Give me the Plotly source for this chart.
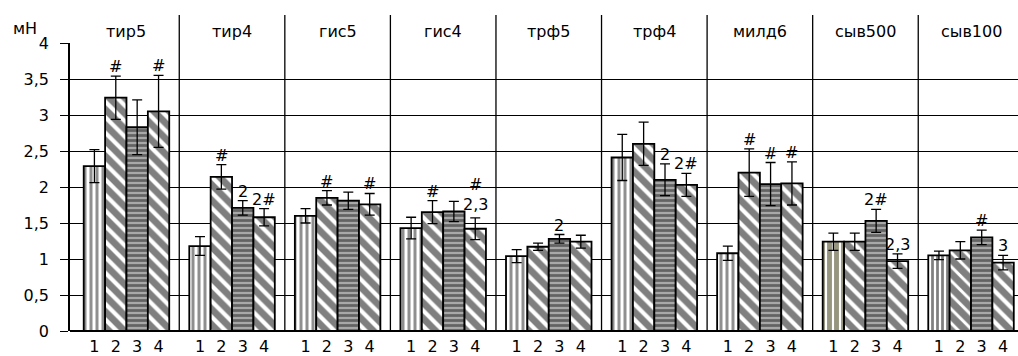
import plotly.graph_objects as go

categories = ["тир5", "тир4", "гис5", "гис4", "трф5", "трф4", "милд6", "сыв500", "сыв100"]
series_names = ["1", "2", "3", "4"]

s1 = [2.29, 1.18, 1.60, 1.43, 1.04, 2.41, 1.08, 1.24, 1.05]
s2 = [3.24, 2.14, 1.85, 1.65, 1.17, 2.60, 2.20, 1.24, 1.12]
s3 = [2.83, 1.71, 1.81, 1.66, 1.28, 2.10, 2.04, 1.53, 1.30]
s4 = [3.05, 1.58, 1.76, 1.42, 1.24, 2.03, 2.05, 0.97, 0.95]

e1 = [0.23, 0.13, 0.10, 0.15, 0.09, 0.32, 0.10, 0.12, 0.06]
e2 = [0.30, 0.17, 0.10, 0.16, 0.05, 0.30, 0.33, 0.12, 0.12]
e3 = [0.38, 0.10, 0.12, 0.14, 0.06, 0.22, 0.30, 0.16, 0.10]
e4 = [0.50, 0.12, 0.15, 0.15, 0.09, 0.16, 0.30, 0.10, 0.10]

# significance marks: (category index, series index, text)
marks = [
    (0, 1, "#"), (0, 3, "#"),
    (1, 1, "#"), (1, 2, "2"), (1, 3, "2#"),
    (2, 1, "#"), (2, 3, "#"),
    (3, 1, "#"), (3, 3, "2,3"), (3, 3, "#"),
    (4, 2, "2"),
    (5, 2, "2"), (5, 3, "2#"),
    (6, 1, "#"), (6, 2, "#"), (6, 3, "#"),
    (7, 2, "2#"), (7, 3, "2,3"),
    (8, 2, "#"), (8, 3, "3"),
]

y_ticks = [0, 0.5, 1, 1.5, 2, 2.5, 3, 3.5, 4]
unit = "мН"

FONT = "DejaVu Sans"
FS = 16
values = [s1, s2, s3, s4]
errors = [e1, e2, e3, e4]
n = len(categories)
xs = list(range(n))
bargap = 0.19
bw = (1 - bargap) / 4

fg1 = ["#202020"] * 7 + ["#2e2e00", "#000000"]
size1 = [6] * 7 + [7, 5]
sol1 = [0.5] * 7 + [0.7, 0.55]
patterns = [
    dict(shape="|", fgcolor=fg1, bgcolor="white", size=size1, solidity=sol1),
    dict(shape="\\", fgcolor="black", bgcolor="white", size=[11] * 8 + [10], solidity=[0.62] * 8 + [0.7]),
    dict(shape="-", fgcolor="#1e1e1e", bgcolor="#a8a8a8", size=5, solidity=0.55),
    dict(shape="\\", fgcolor="black", bgcolor="white", size=11, solidity=0.62),
]

fig = go.Figure()
for k in range(4):
    fig.add_trace(go.Bar(
        x=xs, y=values[k], name=series_names[k],
        marker=dict(color="white", line=dict(color="black", width=1.8), pattern=patterns[k]),
        error_y=dict(type="data", array=errors[k], color="black", thickness=1.3, width=5),
        showlegend=False,
    ))

annotations = []
for i, c in enumerate(categories):
    annotations.append(dict(x=i, y=1.04, xref="x", yref="paper", text=c, showarrow=False,
                            font=dict(family=FONT, size=FS, color="black"), yanchor="middle"))
annotations.append(dict(x=-0.047, y=1.052, xref="paper", yref="paper", text=unit, showarrow=False,
                        font=dict(family=FONT, size=FS, color="black"), xanchor="center", yanchor="middle"))

seen = {}
for (i, k, t) in marks:
    key = (i, k)
    extra = seen.get(key, 0)
    seen[key] = extra + 1
    yv = values[k][i] + errors[k][i]
    shift = -2 + extra * 24
    if t == "2,3" and i == 3:
        shift = 2
    annotations.append(dict(x=i + (k - 1.5) * bw, y=yv, xref="x", yref="y", text=t, showarrow=False,
                            font=dict(family=FONT, size=FS, color="black"), yanchor="bottom",
                            yshift=shift))

shapes = []
for i in range(n - 1):
    shapes.append(dict(type="line", xref="x", yref="paper", x0=i + 0.5, x1=i + 0.5, y0=0, y1=1.097,
                       line=dict(color="black", width=1.3)))

tickvals = []
ticktext = []
for i in range(n):
    for k in range(4):
        tickvals.append(i + (k - 1.5) * bw)
        ticktext.append(series_names[k])

fig.update_layout(
    width=1018, height=356,
    margin=dict(l=70, r=0, t=43, b=23),
    plot_bgcolor="white", paper_bgcolor="white",
    barmode="group", bargap=bargap, bargroupgap=0,
    separators=", ",
    font=dict(family=FONT, size=FS, color="black"),
    annotations=annotations, shapes=shapes,
    xaxis=dict(range=[-0.535, 8.445], tickvals=tickvals, ticktext=ticktext, ticks="",
               showgrid=False, zeroline=False, showline=False, ticklabelstandoff=4,
               tickfont=dict(family=FONT, size=FS, color="black")),
    yaxis=dict(range=[0, 4], tickvals=y_ticks, ticks="outside", ticklen=8, tickcolor="black", tickwidth=1.3,
               showgrid=True, gridcolor="black", gridwidth=1, zeroline=True, zerolinecolor="black",
               zerolinewidth=1.5, showline=True, linecolor="black", linewidth=1.5,
               ticklabelstandoff=8, tickfont=dict(family=FONT, size=FS, color="black")),
)

fig.write_html("out.html")
